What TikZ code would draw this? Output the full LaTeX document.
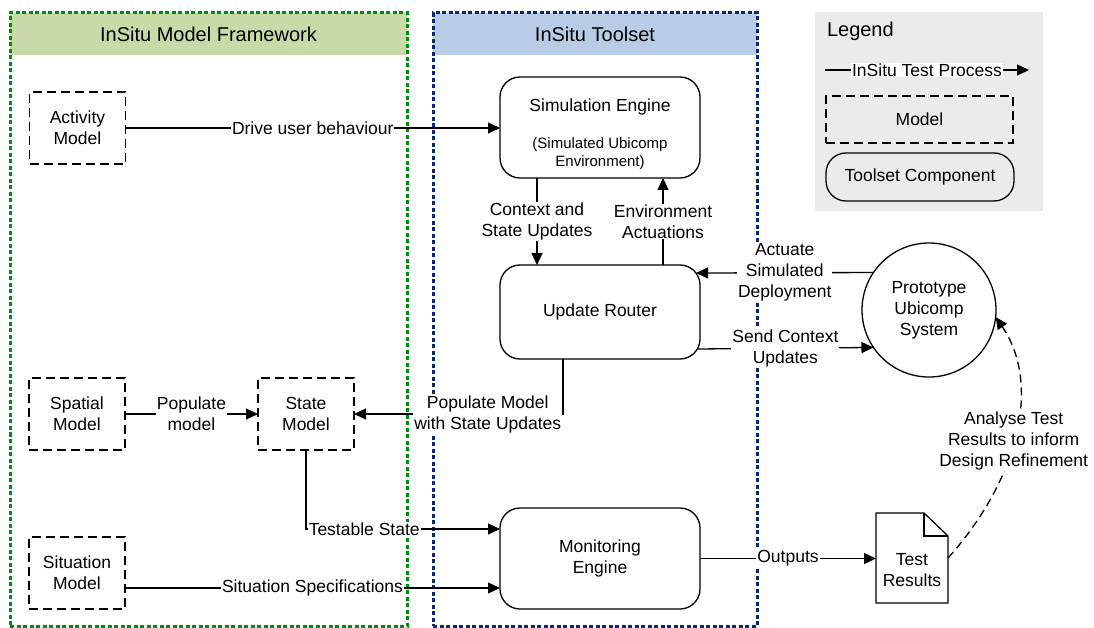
\documentclass[tikz,border=0pt]{standalone}
\usepackage{fontspec}
\setmainfont{Liberation Sans}
\usetikzlibrary{arrows.meta}
\definecolor{fwgreen}{RGB}{0,140,20}
\definecolor{fwhead}{RGB}{200,218,168}
\definecolor{tsblue}{RGB}{10,40,110}
\definecolor{tshead}{RGB}{184,204,230}
\definecolor{leggray}{RGB}{235,235,235}
\newcommand\labfont{\fontsize{17.5}{21}\selectfont}
\newcommand\headfont{\fontsize{20}{24}\selectfont}
\newcommand\notefont{\fontsize{15}{18}\selectfont}

\begin{document}
\begin{tikzpicture}[x=1pt,y=-1pt,
  every node/.style={inner sep=0pt, outer sep=0pt},
  frame/.style={line width=3pt, dash pattern=on 4pt off 2.5pt, rectangle},
  head/.style={rectangle, font=\headfont},
  model/.style={draw, line width=1.3pt, dash pattern=on 9pt off 5pt,
    minimum width=96pt, minimum height=72pt, align=center, font=\labfont},
  tool/.style={draw, line width=1.3pt, rounded corners=20pt,
    minimum width=200pt, align=center, font=\labfont},
  arr/.style={line width=1.3pt, -{Triangle[length=12pt,width=11pt]}},
  lbl/.style={fill=white, inner sep=1pt, align=center, font=\labfont},
]
\useasboundingbox (0,0) rectangle (1094,628);

% framework and toolset panels
\node[fill=fwhead, minimum width=397pt, minimum height=42pt] (fwhead) at (208.5,34) {};
\node[frame, draw=fwgreen, minimum width=397pt, minimum height=613pt] (fw) at (208.5,319.5) {};
\node[head] (fwtitle) at (fwhead.center) {InSitu Model Framework};

\node[fill=tshead, minimum width=324pt, minimum height=42pt] (tshead) at (595,34) {};
\node[frame, draw=tsblue, minimum width=324pt, minimum height=613pt] (ts) at (595,319.5) {};
\node[head] (tstitle) at (tshead.center) {InSitu Toolset};

% legend
\node[fill=leggray, minimum width=228pt, minimum height=199pt] (leg) at (929,111.5) {};
\node[anchor=west, font=\headfont] (legtitle) at (827,31) {Legend};
\coordinate (la) at (825,70);
\coordinate (lb) at (1029,70);
\draw[arr] (la) -- node[lbl]{InSitu Test Process} (lb);
\node[model, minimum width=187pt, minimum height=47pt] (legmodel) at (919.5,119.5) {Model};
\node[tool, minimum width=188pt, minimum height=48pt] (legtool) at (920,177) {Toolset Component};

% models
\node[model] (act) at (77.5,128) {Activity\\Model};
\node[model] (spa) at (77,414) {Spatial\\Model};
\node[model] (sta) at (306,414) {State\\Model};
\node[model] (sit) at (77,573) {Situation\\Model};

% toolset components
\node[tool, minimum height=101pt] (sim) at (600,127.5) {};
\node[font=\labfont] (simtitle) at (600,107) {Simulation Engine};
\node[font=\notefont, align=center] (simnote) at (600,153.5) {(Simulated Ubicomp\\Environment)};
\node[tool, minimum height=94pt] (ur) at (600,312) {Update Router};
\node[tool, minimum height=101pt] (mon) at (600,558.5) {Monitoring\\Engine};

% prototype system
\node[circle, draw, line width=1.3pt, minimum size=134pt, align=center, font=\labfont]
  (proto) at (929,310) {Prototype\\Ubicomp\\System};

% test results document
\node[minimum width=72pt, minimum height=90pt] (res) at (912,558) {};
\draw[line width=1.3pt, line join=miter] (res.north west) -- ([xshift=-24pt]res.north east)
  -- ([yshift=-23pt]res.north east) -- (res.south east) -- (res.south west) -- cycle;
\draw[line width=1.3pt] ([xshift=-24pt]res.north east) |- ([yshift=-23pt]res.north east);
\node[font=\labfont, align=center] (restext) at ([yshift=-12pt]res.center) {Test\\Results};

% process flow
\draw[arr] (act.east) -- node[lbl]{Drive user behaviour} (act.east -| sim.west);
\draw[arr] ([xshift=-63pt]sim.south) -- node[lbl]{Context and\\State Updates} ([xshift=-63pt]ur.north);
\draw[arr] ([xshift=63pt]ur.north) -- node[lbl]{Environment\\Actuations} ([xshift=63pt]sim.south);
\draw[arr] (proto.146.5) -- node[lbl]{Actuate\\Simulated\\Deployment} ([xshift=-4pt,yshift=39pt]ur.east);
\draw[arr] ([xshift=-2.7pt,yshift=-37pt]ur.east) -- node[lbl]{Send Context\\Updates} (proto.214.4);
\draw[arr] (spa.east) -- node[lbl]{Populate\\model} (sta.west);
\draw[arr] ([xshift=-37pt]ur.south) |- node[lbl, pos=0.68]{Populate Model\\with State Updates} (sta.east);
\draw[arr] (sta.south) |- node[lbl, pos=0.65]{Testable State} ([yshift=29.5pt]mon.west);
\draw[arr] ([yshift=-15pt]sit.east) -- node[lbl]{Situation Specifications} ([yshift=-29.5pt]mon.west);
\draw[arr] (mon.east) -- node[lbl]{Outputs} (mon.east -| res.west);
\draw[arr, dash pattern=on 8pt off 5pt] (res.east) .. controls (1018,480) and (1042,385) ..
  node[lbl, pos=0.47]{Analyse Test\\Results to inform\\Design Refinement} (proto.-6);
\end{tikzpicture}
\end{document}
